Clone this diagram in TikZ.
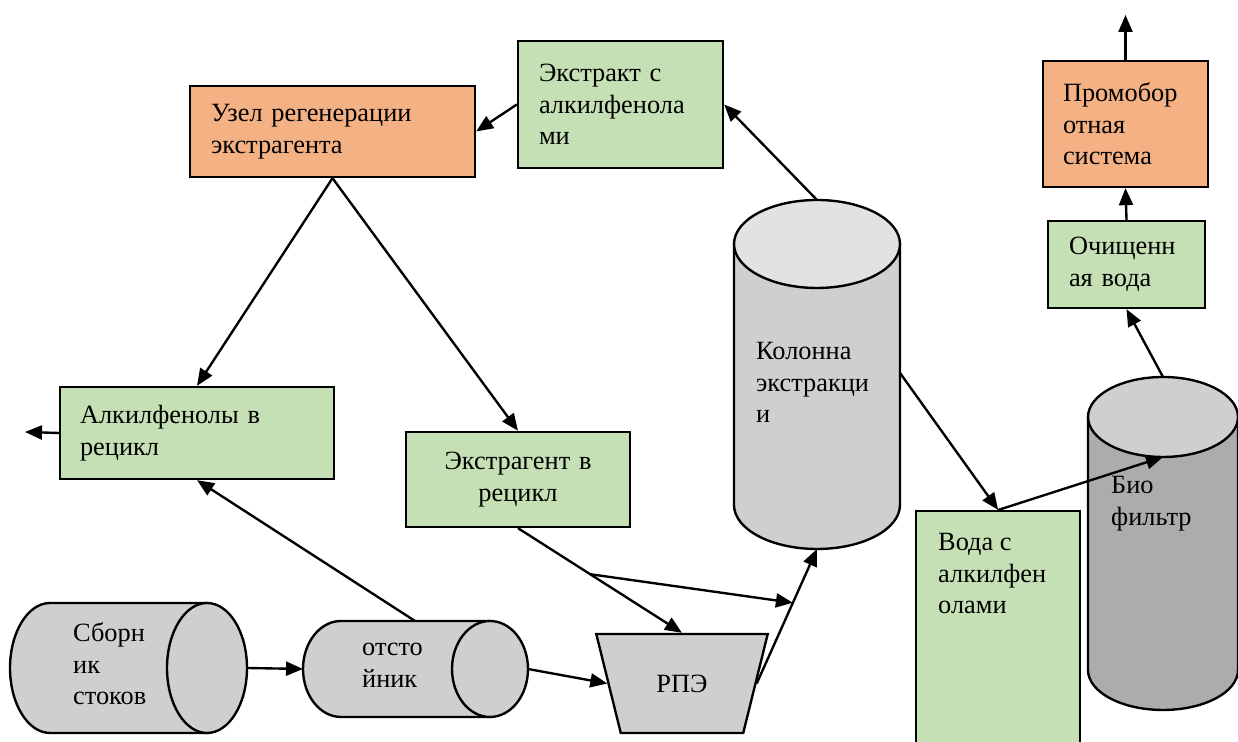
\documentclass[tikz,border=0pt]{standalone}
\usepackage{fontspec}
\setmainfont{Liberation Serif}
\newfontfamily\schemefont{Liberation Serif}
\usepackage{tikz}
\usetikzlibrary{arrows.meta}
\usetikzlibrary{shapes.geometric}
\usetikzlibrary{calc}

\definecolor{boxgreen}{HTML}{C5E0B4}
\definecolor{boxorange}{HTML}{F4B183}
\definecolor{tankgray}{HTML}{D0CECE}
\definecolor{tanktop}{HTML}{E3E2E2}
\definecolor{biogray}{HTML}{AEABAB}

\begin{document}
\begin{tikzpicture}[x=0.02cm,y=0.02cm,->,>={Triangle[length=0.34cm,width=0.28cm]},line width=1.35pt,
    font=\schemefont\fontsize{15}{18}\selectfont,
    main box/.style={rectangle,draw,align=left,inner xsep=0.42cm,inner ysep=0pt},
    green box/.style={main box,fill=boxgreen},
    orange box/.style={main box,fill=boxorange},
    tank text/.style={align=left,inner sep=0pt,anchor=west}]
  \useasboundingbox (0,0) rectangle (1238,742);
  % boxes
  \node[orange box,text width=4.86cm,minimum height=1.82cm] (uzel) at (332.5,610.5) {Узел регенерации\\экстрагента};
  \node[green box,text width=3.26cm,minimum height=2.54cm] (ekstrakt) at (620.5,637.5) {Экстракт с\\алкилфенола\\ми};
  \node[orange box,inner xsep=0.4cm,text width=2.5cm,minimum height=2.52cm] (prom) at (1125.5,618) {Промобор\\отная\\система};
  \node[green box,text width=2.3cm,minimum height=1.74cm] (ochist) at (1126.5,477.5) {Очищенн\\ая вода};
  \node[green box,inner xsep=0.4cm,text width=4.68cm,minimum height=1.84cm] (alkil) at (197,309) {Алкилфенолы в\\рецикл};
  \node[green box,align=center,text width=3.64cm,minimum height=1.9cm] (ekstragent) at (518,262.5) {Экстрагент в\\рецикл};
  \node[green box,anchor=north west,minimum width=3.28cm,minimum height=5.2cm] (voda) at (915,232) {};
  \node[tank text,anchor=north west] (voda text) at ([shift={(22,-22)}]voda.north west) {Вода с\\алкилфен\\олами};

  % tanks
  \draw[-,fill=tankgray] (734,498) -- (734,237) arc[start angle=180,end angle=360,x radius=1.66cm,y radius=0.88cm] -- (900,498) -- cycle;
  \draw[-,fill=tanktop] (817,498) ellipse [x radius=1.66cm,y radius=0.88cm];
  \draw[-,fill=biogray] (1088,325) -- (1088,72) arc[start angle=180,end angle=360,x radius=1.5cm,y radius=0.8cm] -- (1238,325) -- cycle;
  \draw[-,fill=tankgray] (1163,325) ellipse [x radius=1.5cm,y radius=0.8cm];
  \draw[-,fill=tankgray] (207,139) -- (50,139) arc[start angle=90,end angle=270,x radius=0.8cm,y radius=1.3cm] -- (207,9) -- cycle;
  \draw[-,fill=tankgray] (207,74) ellipse [x radius=0.8cm,y radius=1.3cm];
  \draw[-,fill=tankgray] (490,121) -- (341,121) arc[start angle=90,end angle=270,x radius=0.76cm,y radius=0.96cm] -- (490,25) -- cycle;
  \draw[-,fill=tankgray] (490,73) ellipse [x radius=0.76cm,y radius=0.96cm];

  \node[tank text] (kolonna) at (755,359.5) {Колонна\\экстракци\\и};
  \node[tank text] (bio) at (1110,238.5) {Био\\фильтр};
  \node[tank text] (sbornik) at (72,78) {Сборн\\ик\\стоков};
  \node[tank text] (otstoj) at (361,77) {отсто\\йник};
  \node[trapezium,shape border rotate=180,trapezium stretches=true,draw,fill=tankgray,
        minimum width=3.44cm,minimum height=1.98cm,inner sep=0pt] (rpe) at (682,58.5) {РПЭ};

  \coordinate (kol top) at (817,542);
  \coordinate (kol bottom) at (817,193);
  \coordinate (kol side) at (900,369);
  \coordinate (bio top) at (1163,365);
  \coordinate (bio front) at (1163,285);
  \coordinate (sbor out) at (247,74);
  \coordinate (otst in) at (303,73);
  \coordinate (otst out) at (528,73);
  \coordinate (otst top) at (415,121);
  \coordinate (alkil out) at (25,310);
  \coordinate (prom out) at (1125.5,727);
  \coordinate (branch) at ($(ekstragent.south)!0.44!(rpe.90)$);
  \coordinate (branch end) at ($(rpe.0)!0.6!(kol bottom)$);

  % flows
  \path (ekstrakt.west) edge (uzel.east)
        (kol top) edge (ekstrakt.east)
        (uzel.south) edge (alkil.north)
        (uzel.south) edge (ekstragent.north)
        (alkil.west) edge (alkil out)
        (otst top) edge (alkil.south)
        (sbor out) edge (otst in)
        (otst out) edge (rpe.180)
        (ekstragent.south) edge (rpe.90)
        (branch) edge (branch end)
        (rpe.0) edge (kol bottom)
        (kol side) edge (voda.north)
        (voda.north) edge (bio front)
        (bio top) edge (ochist.south)
        (ochist.north) edge (prom.south)
        (prom.north) edge (prom out);
\end{tikzpicture}
\end{document}
